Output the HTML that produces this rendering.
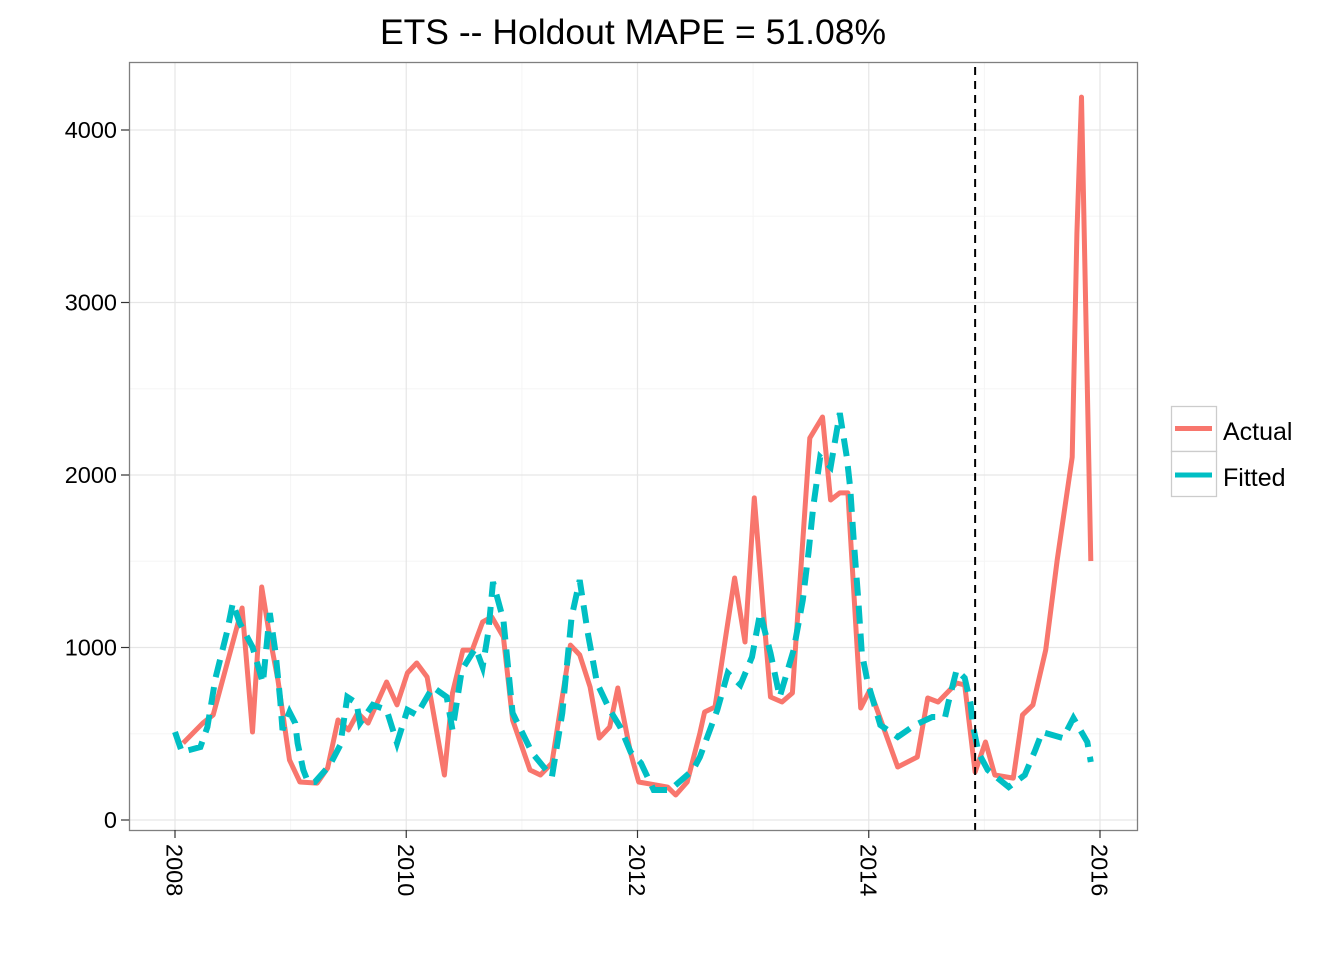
<!DOCTYPE html>
<html><head><meta charset="utf-8"><style>
html,body{margin:0;padding:0;background:#fff;}
svg text{font-family:"Liberation Sans",Arial,sans-serif;}
</style></head><body>
<svg id="chart" width="1344" height="960" viewBox="0 0 1344 960" xmlns="http://www.w3.org/2000/svg">
<text x="633" y="44" font-size="35.5" text-anchor="middle" fill="#000">ETS -- Holdout MAPE = 51.08%</text>
<g id="grid"></g>
<g id="series"></g>
<rect x="129.5" y="62.5" width="1008" height="768" fill="none" stroke="#7f7f7f" stroke-width="1.3"/>
<g id="axes"></g>
<g>
<rect x="1171.5" y="406.5" width="45" height="45" fill="#fff" stroke="#cccccc" stroke-width="1.3"/>
<rect x="1171.5" y="451.5" width="45" height="45" fill="#fff" stroke="#cccccc" stroke-width="1.3"/>
<line x1="1175" y1="428.5" x2="1212" y2="428.5" stroke="#F8766D" stroke-width="5"/>
<line x1="1175" y1="475" x2="1212" y2="475" stroke="#00BFC4" stroke-width="5"/>
<text x="1223" y="440" font-size="25">Actual</text>
<text x="1223" y="486" font-size="25">Fitted</text>
</g>
</svg>
<script>
const actualDates=[2008.07,2008.24,2008.33,2008.58,2008.67,2008.75,2008.82,2008.89,2008.99,2009.08,2009.23,2009.32,2009.41,2009.50,2009.58,2009.67,2009.83,2009.92,2010.01,2010.09,2010.18,2010.33,2010.40,2010.49,2010.57,2010.66,2010.74,2010.84,2010.92,2011.07,2011.16,2011.26,2011.42,2011.50,2011.59,2011.67,2011.76,2011.83,2011.94,2012.01,2012.26,2012.33,2012.43,2012.54,2012.58,2012.67,2012.84,2012.93,2013.01,2013.09,2013.15,2013.25,2013.34,2013.49,2013.60,2013.67,2013.75,2013.82,2013.93,2014.01,2014.25,2014.42,2014.51,2014.60,2014.76,2014.83,2014.92,2015.01,2015.09,2015.25,2015.33,2015.42,2015.53,2015.63,2015.76,2015.80,2015.84,2015.92];
const actualValues=[446,562,609,1229,510,1351,1061,812,348,220,214,301,580,522,620,562,800,667,852,910,829,261,736,985,985,1148,1177,1061,580,290,261,330,1014,957,771,475,539,765,388,220,191,145,220,504,626,655,1403,1032,1867,1200,713,684,736,2214,2336,1855,1896,1896,649,754,307,365,707,684,794,783,278,452,261,243,609,667,985,1507,2104,3400,4191,1501];
const fittedDates=[2008.00,2008.06,2008.22,2008.28,2008.35,2008.45,2008.50,2008.56,2008.67,2008.72,2008.76,2008.82,2008.87,2008.91,2008.93,2008.99,2009.04,2009.06,2009.11,2009.15,2009.21,2009.34,2009.43,2009.49,2009.57,2009.60,2009.71,2009.83,2009.92,2010.01,2010.09,2010.23,2010.35,2010.40,2010.48,2010.60,2010.66,2010.71,2010.75,2010.84,2010.92,2011.09,2011.26,2011.35,2011.43,2011.50,2011.57,2011.65,2011.76,2011.85,2011.94,2012.03,2012.14,2012.28,2012.48,2012.54,2012.69,2012.78,2012.89,2012.99,2013.06,2013.15,2013.23,2013.35,2013.43,2013.48,2013.52,2013.58,2013.67,2013.75,2013.81,2013.84,2013.87,2013.91,2013.94,2013.99,2014.10,2014.25,2014.40,2014.55,2014.66,2014.69,2014.76,2014.83,2014.88,2014.90,2014.95,2015.03,2015.21,2015.35,2015.44,2015.50,2015.68,2015.77,2015.89,2015.92];
const fittedValues=[510,394,423,539,823,1090,1258,1142,1003,887,794,1200,968,696,522,626,562,446,290,220,220,319,435,713,678,562,667,638,446,638,609,771,713,522,870,997,887,1090,1380,1159,620,388,249,620,1177,1391,1084,794,638,539,394,330,174,174,290,365,638,852,783,945,1200,968,713,985,1275,1554,1814,2104,2046,2359,2104,1925,1623,1275,968,800,551,481,551,597,597,684,870,823,678,551,388,290,191,261,406,510,475,591,452,336];
const yTicks=[0,1000,2000,3000,4000];
const yMinor=[500,1500,2500,3500];
const xTicks=[2008,2010,2012,2014,2016];
const xMinor=[2009,2011,2013,2015];
const holdoutDate=2014.92;

const NS='http://www.w3.org/2000/svg';
const X0=129,X1=1137,Y0=62,Y1=830;
function sx(d){return 175+(d-2008)*(1100-175)/8;}
function sy(v){return 820-v*(820-130)/4000;}
function mk(tag,attrs,parent){const e=document.createElementNS(NS,tag);for(const k in attrs)e.setAttribute(k,attrs[k]);parent.appendChild(e);return e;}
const grid=document.getElementById('grid'),series=document.getElementById('series'),axes=document.getElementById('axes');
mk('rect',{x:X0,y:Y0,width:X1-X0,height:Y1-Y0,fill:'#fff'},grid);
yMinor.forEach(v=>{const l=mk('line',{x1:X0,x2:X1,y1:sy(v),y2:sy(v),stroke:'#f5f5f5','stroke-width':1},grid);

});
xMinor.forEach(d=>{const l=mk('line',{x1:sx(d),x2:sx(d),y1:Y0,y2:Y1,stroke:'#f5f5f5','stroke-width':1},grid);

});
yTicks.forEach(v=>{const l=mk('line',{x1:X0,x2:X1,y1:sy(v),y2:sy(v),stroke:'#e6e6e6','stroke-width':1.2},grid);


const t=mk('line',{x1:X0-8,x2:X0,y1:sy(v),y2:sy(v),stroke:'#333','stroke-width':1.2},axes);


const tx=mk('text',{x:X0-12,y:sy(v)+8,'font-size':23.5,'text-anchor':'end',fill:'#000'},axes);tx.textContent=v;

});
xTicks.forEach(d=>{const l=mk('line',{x1:sx(d),x2:sx(d),y1:Y0,y2:Y1,stroke:'#e6e6e6','stroke-width':1.2},grid);


const t=mk('line',{x1:sx(d),x2:sx(d),y1:Y1,y2:Y1+8,stroke:'#333','stroke-width':1.2},axes);


const tx=mk('text',{x:0,y:0,'font-size':23.5,fill:'#000',transform:`translate(${sx(d)-8.5},844) rotate(90)`},axes);tx.textContent=d;

});
function pts(ds,vs){return ds.map((d,i)=>sx(d).toFixed(1)+','+sy(vs[i]).toFixed(1)).join(' ');}
const a=mk('polyline',{points:pts(actualDates,actualValues),fill:'none',stroke:'#F8766D','stroke-width':5,'stroke-linejoin':'round'},series);


const f=mk('polyline',{points:pts(fittedDates,fittedValues),fill:'none',stroke:'#00BFC4','stroke-width':6,'stroke-dasharray':'18 10'},series);


const h=mk('line',{x1:sx(holdoutDate),x2:sx(holdoutDate),y1:Y0+5,y2:Y1,stroke:'#000','stroke-width':2,'stroke-dasharray':'8 6'},series);


</script>
</body></html>
